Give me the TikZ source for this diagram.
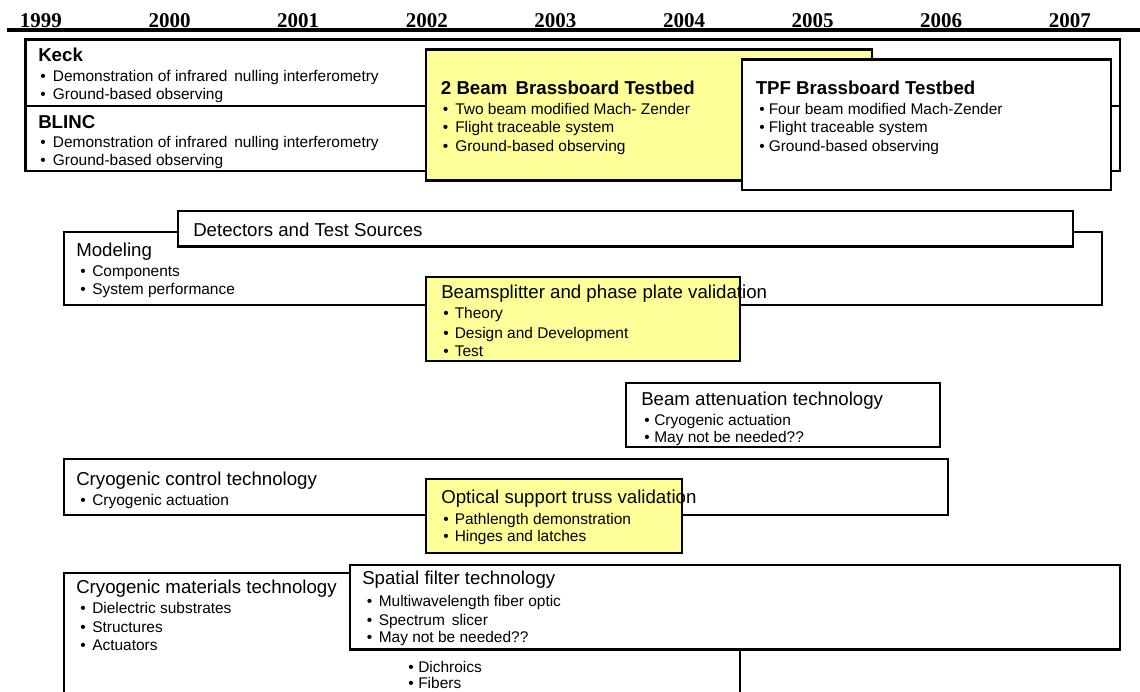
\documentclass[tikz,border=0pt]{standalone}
\usepackage{fontspec}
\setmainfont{Liberation Sans}
\newfontfamily\yearfont{Liberation Serif}
\definecolor{boxyellow}{RGB}{255,255,153}
\tikzset{
  box/.style={draw=black, line width=1.6pt, fill=white, anchor=north west,
              inner sep=0pt, outer sep=0pt},
  ybox/.style={box, fill=boxyellow},
  head/.style={anchor=base west, inner sep=0pt, font=\fontsize{14}{16}\selectfont},
  bhead/.style={anchor=base west, inner sep=0pt, font=\fontsize{14}{16}\selectfont\bfseries},
  item/.style={anchor=base west, inner sep=0pt, font=\fontsize{11.6}{13}\selectfont},
  year/.style={anchor=base, inner sep=0pt, font=\fontsize{15.75}{18}\selectfont\yearfont\bfseries},
  axis/.style={line width=2.4pt},
}
% box: style, name, left, top, right, bottom (pixel grid)
\newcommand\planbox[6]{%
  \node[#1, minimum width={(#5-#3)*0.75pt}, minimum height={(#6-#4)*0.75pt}] (#2) at (#3,#4) {};}
% bullet line: name, bullet x, text x, baseline, text
\newcommand\bulletline[5]{%
  \node[item] (#1-dot) at (#2,#4) {\textbullet};
  \node[item] (#1) at (#3,#4) {#5};}
\begin{document}
\begin{tikzpicture}[x=0.75pt, y=-0.75pt]
\useasboundingbox (0,0) rectangle (1140,692);

% time axis
\coordinate (axisL) at (7,30);
\coordinate (axisR) at (1140,30);
\draw[axis] (axisL) -- (axisR);
\foreach \yr [count=\i from 0] in {1999,2000,2001,2002,2003,2004,2005,2006,2007}
  \node[year] (y\yr) at ({41+128.6*\i},28) {\yr};

% ground-based interferometers
\planbox{box}{keck}{25.5}{39.5}{1120}{105.7}
\node[bhead] (keck-t) at (38,61.7) {Keck};
\bulletline{keck-1}{40}{52.7}{81.7}{Demonstration of infrared\, nulling interferometry}
\bulletline{keck-2}{40}{52.7}{99}{Ground-based observing}

\planbox{box}{blinc}{25.5}{105.7}{1120}{170.7}
\node[bhead] (blinc-t) at (38,128.3) {BLINC};
\bulletline{blinc-1}{40}{52.7}{147.5}{Demonstration of infrared\, nulling interferometry}
\bulletline{blinc-2}{40}{52.7}{166}{Ground-based observing}

% testbeds
\planbox{ybox}{twobeam}{426}{49.5}{872}{180.5}
\node[bhead] (twobeam-t) at (440.7,94.3) {2 Beam\, Brassboard Testbed};
\bulletline{twobeam-1}{442.7}{455}{115}{Two beam modified Mach- Zender}
\bulletline{twobeam-2}{442.7}{455}{132.7}{Flight traceable system}
\bulletline{twobeam-3}{442.7}{455}{151.7}{Ground-based observing}

\planbox{box}{tpf}{742}{59.5}{1111}{190}
\node[bhead] (tpf-t) at (755.5,95) {TPF Brassboard Testbed};
\bulletline{tpf-1}{759}{768.5}{115}{Four beam modified Mach-Zender}
\bulletline{tpf-2}{759}{768.5}{132.7}{Flight traceable system}
\bulletline{tpf-3}{759}{768.5}{151.7}{Ground-based observing}

% modeling and detectors
\planbox{box}{modeling}{64}{231.7}{1102}{305}
\planbox{box}{detectors}{178}{211}{1073}{246.5}
\node[head] (detectors-t) at (193,236.7) {Detectors and Test Sources};
\node[head] (modeling-t) at (76,256.7) {Modeling};
\bulletline{modeling-1}{80}{92}{276.7}{Components}
\bulletline{modeling-2}{80}{92}{294.5}{System performance}

\planbox{ybox}{beamsplit}{426}{277.3}{740}{361}
\node[head] (beamsplit-t) at (441,298.5) {Beamsplitter and phase plate validation};
\bulletline{beamsplit-1}{443}{454.5}{318}{Theory}
\bulletline{beamsplit-2}{443}{454.5}{338}{Design and Development}
\bulletline{beamsplit-3}{443}{454.5}{356.7}{Test}

% attenuation
\planbox{box}{atten}{625.6}{382.7}{940}{447}
\node[head] (atten-t) at (641,405) {Beam attenuation technology};
\bulletline{atten-1}{644}{654}{425}{Cryogenic actuation}
\bulletline{atten-2}{644}{654}{442.7}{May not be needed??}

% cryogenic control
\planbox{box}{cryoctl}{64}{459}{948}{515}
\node[head] (cryoctl-t) at (76,485) {Cryogenic control technology};
\bulletline{cryoctl-1}{80}{92}{505}{Cryogenic actuation}

\planbox{ybox}{truss}{426}{479}{681.6}{552.7}
\node[head] (truss-t) at (441,503) {Optical support truss validation};
\bulletline{truss-1}{443}{454.5}{524.3}{Pathlength demonstration}
\bulletline{truss-2}{443}{454.5}{541.7}{Hinges and latches}

% cryogenic materials, running past the lower edge
\planbox{box}{cryomat}{64}{572.7}{740}{720}
\node[head] (cryomat-t) at (76,593.3) {Cryogenic materials technology};
\bulletline{cryomat-1}{80}{92}{613}{Dielectric substrates}
\bulletline{cryomat-2}{80}{92}{632}{Structures}
\bulletline{cryomat-3}{80}{92}{650}{Actuators}
\bulletline{cryomat-4}{408}{418}{672}{Dichroics}
\bulletline{cryomat-5}{408}{418}{688.5}{Fibers}

\planbox{box}{spatial}{350}{565}{1120}{649.5}
\node[head] (spatial-t) at (362,584) {Spatial filter technology};
\bulletline{spatial-1}{366.7}{378.5}{606.5}{Multiwavelength fiber optic}
\bulletline{spatial-2}{366.7}{378.5}{625.5}{Spectrum\, slicer}
\bulletline{spatial-3}{366.7}{378.5}{642}{May not be needed??}
\end{tikzpicture}
\end{document}
